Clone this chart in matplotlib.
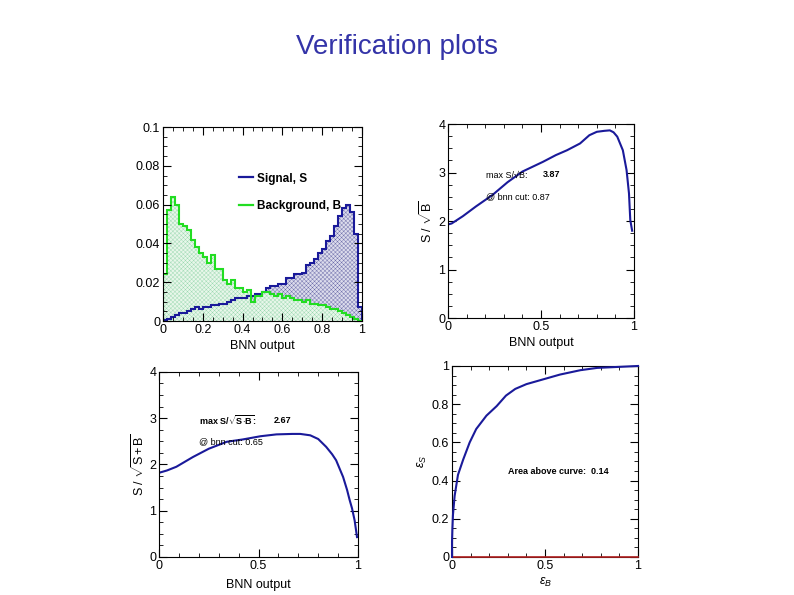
import numpy as np
import matplotlib
matplotlib.use("Agg")
import matplotlib.pyplot as plt
from matplotlib.lines import Line2D
from matplotlib.ticker import MultipleLocator

plt.rcParams['font.family'] = ['Liberation Sans', 'DejaVu Sans']
plt.rcParams['mathtext.fontset'] = 'custom'
plt.rcParams['mathtext.rm'] = 'Liberation Sans'
plt.rcParams['mathtext.it'] = 'Liberation Sans:italic'
plt.rcParams['mathtext.bf'] = 'Liberation Sans:bold'
plt.rcParams['hatch.linewidth'] = 0.3

# ---------------- data ----------------
bin_edges = np.linspace(0, 1, 51)
signal = [0.0005, 0.001, 0.002, 0.003, 0.004, 0.004, 0.005, 0.006, 0.007, 0.006,
          0.007, 0.007, 0.008, 0.008, 0.009, 0.009, 0.010, 0.011, 0.012, 0.012,
          0.012, 0.013, 0.013, 0.014, 0.014, 0.015, 0.017, 0.018, 0.018, 0.019,
          0.019, 0.022, 0.022, 0.024, 0.024, 0.025, 0.029, 0.030, 0.032, 0.035,
          0.037, 0.041, 0.044, 0.049, 0.054, 0.058, 0.060, 0.056, 0.045, 0.007]
background = [0.024, 0.057, 0.064, 0.060, 0.050, 0.049, 0.047, 0.042, 0.038, 0.035,
              0.033, 0.030, 0.034, 0.027, 0.027, 0.021, 0.019, 0.021, 0.017, 0.017,
              0.015, 0.016, 0.010, 0.013, 0.013, 0.015, 0.015, 0.014, 0.013, 0.014,
              0.012, 0.013, 0.012, 0.011, 0.011, 0.010, 0.011, 0.009, 0.009, 0.008,
              0.008, 0.007, 0.006, 0.006, 0.005, 0.004, 0.003, 0.002, 0.001, 0.0]

sb_x = [0.0, 0.02, 0.08, 0.15, 0.24, 0.32, 0.40, 0.51, 0.58, 0.64, 0.71, 0.76,
        0.80, 0.84, 0.87, 0.89, 0.91, 0.94, 0.96, 0.973, 0.98, 0.99]
sb_y = [1.93, 1.95, 2.10, 2.30, 2.54, 2.80, 3.02, 3.22, 3.36, 3.46, 3.60, 3.77,
        3.84, 3.86, 3.87, 3.83, 3.74, 3.46, 3.05, 2.57, 2.02, 1.80]

ssb_x = [0.0, 0.04, 0.087, 0.17, 0.25, 0.34, 0.42, 0.51, 0.59, 0.67, 0.71, 0.76,
         0.80, 0.84, 0.87, 0.89, 0.925, 0.945, 0.958, 0.97, 0.983, 0.995]
ssb_y = [1.82, 1.87, 1.95, 2.16, 2.34, 2.49, 2.54, 2.61, 2.65, 2.66, 2.66, 2.63,
         2.55, 2.38, 2.22, 2.09, 1.73, 1.45, 1.23, 1.05, 0.79, 0.43]

roc_eb = [0.0, 0.0, 0.002, 0.005, 0.014, 0.032, 0.06, 0.095, 0.13, 0.185, 0.24,
          0.29, 0.34, 0.40, 0.49, 0.58, 0.69, 0.78, 1.0]
roc_es = [0.0, 0.08, 0.15, 0.22, 0.32, 0.43, 0.51, 0.60, 0.67, 0.74, 0.79,
          0.845, 0.88, 0.905, 0.93, 0.955, 0.978, 0.99, 1.0]

navy = '#1a1a9a'
green = '#22dd22'

fig = plt.figure(figsize=(7.94, 5.95), dpi=100)
fig.text(0.5, 0.921, 'Verification plots', ha='center', va='center',
         fontsize=20, color='#3434a8')

def style(ax, xmaj, xmin, ymaj, ymin):
    ax.xaxis.set_major_locator(MultipleLocator(xmaj))
    ax.xaxis.set_minor_locator(MultipleLocator(xmin))
    ax.yaxis.set_major_locator(MultipleLocator(ymaj))
    ax.yaxis.set_minor_locator(MultipleLocator(ymin))
    ax.tick_params(which='both', direction='in', top=True, right=True,
                   labelsize=9, pad=2)
    ax.tick_params(which='major', length=6)
    ax.tick_params(which='minor', length=3)
    for s in ax.spines.values():
        s.set_linewidth(0.8)

def fmt(v, pos=None):
    return '%g' % round(v, 4)

# ---- top-left histogram ----
ax1 = fig.add_axes([0.2053, 0.4605, 0.2506, 0.326])
ax1.stairs(signal, bin_edges, fill=True, facecolor='#dcdcec', edgecolor='#6a6aa8',
           hatch='xxxxxxxx', linewidth=0)
ax1.stairs(background, bin_edges, fill=True, facecolor='#e8f7ea', edgecolor='#9ad8b0',
           hatch='xxxxxxxx', linewidth=0)
ax1.stairs(signal, bin_edges, color=navy, linewidth=1.5)
ax1.stairs(background, bin_edges, color=green, linewidth=1.5)
ax1.set_xlim(0, 1)
ax1.set_ylim(0, 0.1)
style(ax1, 0.2, 0.05, 0.02, 0.005)
ax1.xaxis.set_major_formatter(fmt)
ax1.yaxis.set_major_formatter(fmt)
ax1.set_xlabel('BNN output', fontsize=9, labelpad=3)
handles = [Line2D([], [], color=navy, lw=1.6), Line2D([], [], color=green, lw=1.6)]
ax1.legend(handles, ['Signal, S', 'Background, B'], frameon=False,
           loc='upper left', bbox_to_anchor=(0.33, 0.82),
           handlelength=1.2, handletextpad=0.3, labelspacing=1.3,
           prop={'weight': 'bold', 'size': 8.5})

# ---- top-right S/sqrt(B) ----
ax2 = fig.add_axes([0.5642, 0.4655, 0.2343, 0.326])
ax2.plot(sb_x, sb_y, color=navy, lw=1.5)
ax2.set_xlim(0, 1)
ax2.set_ylim(0, 4)
style(ax2, 0.5, 0.1, 1, 0.25)
ax2.xaxis.set_major_formatter(fmt)
ax2.set_xlabel('BNN output', fontsize=9, labelpad=3)
ax2.set_ylabel(r'S / $\sqrt{\mathrm{B}}$', fontsize=9, labelpad=2)
ax2.text(0.204, 2.95, 'max S/√B:', fontsize=6.5, va='center')
ax2.text(0.51, 2.95, '3.87', fontsize=6.5, va='center', weight='bold')
ax2.text(0.204, 2.5, '@ bnn cut: 0.87', fontsize=6.5, va='center')

# ---- bottom-left S/sqrt(S+B) ----
ax3 = fig.add_axes([0.2003, 0.0639, 0.2506, 0.311])
ax3.plot(ssb_x, ssb_y, color=navy, lw=1.5)
ax3.set_xlim(0, 1)
ax3.set_ylim(0, 4)
style(ax3, 0.5, 0.1, 1, 0.25)
ax3.xaxis.set_major_formatter(fmt)
ax3.set_xlabel('BNN output', fontsize=9, labelpad=5)
ax3.set_ylabel(r'S / $\sqrt{\mathrm{S+B}}$', fontsize=9, labelpad=2)
ax3.text(0.20, 2.95, r'max S/$\sqrt{\mathbf{S\!\cdot\!B}}$:', fontsize=6.5, va='center',
         weight='bold')
ax3.text(0.575, 2.95, '2.67', fontsize=6.5, va='center', weight='bold')
ax3.text(0.20, 2.5, '@ bnn cut: 0.65', fontsize=6.5, va='center')

# ---- bottom-right ROC ----
ax4 = fig.add_axes([0.5693, 0.0639, 0.2343, 0.321])
ax4.plot([0, 1], [0, 0], color='#b02020', lw=1.2, clip_on=False, zorder=3)
ax4.plot(roc_eb, roc_es, color=navy, lw=1.5, zorder=4, clip_on=False)
ax4.set_xlim(0, 1)
ax4.set_ylim(0, 1)
style(ax4, 0.5, 0.1, 0.2, 0.05)
ax4.xaxis.set_major_formatter(fmt)
ax4.yaxis.set_major_formatter(fmt)
ax4.set_xlabel(r'$\epsilon_B$', fontsize=9, labelpad=3)
ax4.set_ylabel(r'$\epsilon_S$', fontsize=9, labelpad=2)
ax4.text(0.30, 0.445, 'Area above curve:  0.14', fontsize=6.5, va='center',
         weight='bold')

fig.savefig('out.png', dpi=100)
